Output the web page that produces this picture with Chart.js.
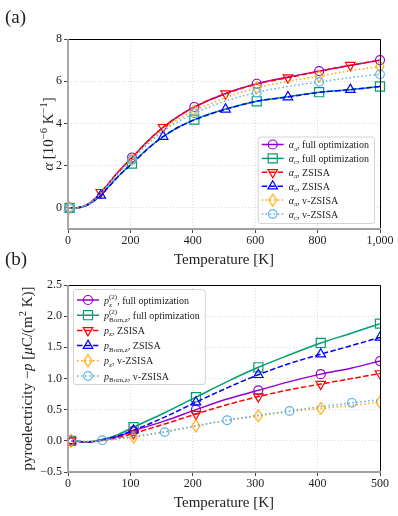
<!DOCTYPE html>
<html>
<head>
<meta charset="utf-8">
<script src="https://cdn.jsdelivr.net/npm/chart.js@4.4.1/dist/chart.umd.min.js"></script>
<style>
body { margin: 0; background: #fff; width: 398px; height: 516px; position: relative; overflow: hidden; font-family: "Liberation Serif", serif; }
#c1 { position: absolute; left: 0; top: 0; }
#c2 { position: absolute; left: 0; top: 270px; }
.pl { position: absolute; left: 5px; font-size: 19px; color: #222; line-height: 22px; }
</style>
</head>
<body>
<canvas id="c1" width="398" height="270"></canvas>
<canvas id="c2" width="398" height="246"></canvas>
<div class="pl" style="top:6px">(a)</div>
<div class="pl" style="top:248px">(b)</div>
<script>
// (a) coeficientes de expansión térmica, 10^-6 K^-1
const tempA = [5, 30, 55, 80, 105, 130, 155, 180, 205, 255, 305, 355, 405, 505, 605, 705, 805, 905, 1000];
const alphaA_full  = [0, 0.01, 0.10, 0.35, 0.72, 1.15, 1.60, 2.00, 2.38, 3.15, 3.82, 4.35, 4.78, 5.42, 5.88, 6.20, 6.48, 6.75, 7.00];
const alphaC_full  = [0, 0.01, 0.09, 0.30, 0.60, 1.00, 1.40, 1.77, 2.10, 2.80, 3.38, 3.83, 4.18, 4.68, 5.05, 5.27, 5.48, 5.60, 5.75];
const alphaA_zsisa = [0, 0.01, 0.10, 0.36, 0.74, 1.17, 1.61, 2.01, 2.38, 3.15, 3.82, 4.35, 4.78, 5.41, 5.87, 6.17, 6.47, 6.76, 6.99];
const alphaC_zsisa = [0, 0.01, 0.09, 0.30, 0.59, 0.99, 1.39, 1.76, 2.09, 2.79, 3.38, 3.83, 4.17, 4.67, 5.05, 5.25, 5.47, 5.60, 5.75];
const alphaA_vz    = [0, 0.01, 0.10, 0.34, 0.70, 1.12, 1.55, 1.95, 2.32, 3.08, 3.72, 4.22, 4.60, 5.22, 5.68, 6.00, 6.24, 6.50, 6.70];
const alphaC_vz    = [0, 0.01, 0.10, 0.33, 0.68, 1.10, 1.52, 1.92, 2.28, 3.02, 3.63, 4.10, 4.48, 5.06, 5.47, 5.75, 5.97, 6.17, 6.33];
const marksA1 = [5, 205, 405, 605, 805, 1000];
const marksA2 = [105, 305, 505, 705, 905];
const xTicksA = [0, 200, 400, 600, 800, 1000];
const yTicksA = [0, 2, 4, 6, 8];

// (b) piroelectricidad, µC/(m^2 K)
const tempB = [5, 30, 55, 80, 105, 155, 205, 255, 305, 355, 405, 455, 500];
const pz_full     = [0, -0.02, 0.01, 0.07, 0.16, 0.32, 0.50, 0.67, 0.81, 0.95, 1.07, 1.17, 1.28];
const pBorn_full  = [0, -0.02, 0.02, 0.10, 0.22, 0.45, 0.70, 0.95, 1.18, 1.38, 1.57, 1.73, 1.88];
const pz_zsisa    = [0, -0.02, 0.01, 0.05, 0.12, 0.27, 0.43, 0.58, 0.71, 0.82, 0.91, 1.00, 1.08];
const pBorn_zsisa = [0, -0.02, 0.02, 0.08, 0.17, 0.38, 0.62, 0.85, 1.06, 1.24, 1.39, 1.53, 1.66];
const pz_vz       = [0, -0.01, 0.00, 0.03, 0.06, 0.15, 0.24, 0.33, 0.40, 0.47, 0.52, 0.57, 0.62];
const pBorn_vz    = [0, -0.01, 0.01, 0.04, 0.07, 0.14, 0.24, 0.33, 0.41, 0.48, 0.55, 0.61, 0.66];
const marksB1 = [5, 105, 205, 305, 405, 500];
const marksB2 = [55, 155, 255, 355, 455];
const xTicksB = [0, 100, 200, 300, 400, 500];
const yTicksB = [-0.5, 0, 0.5, 1, 1.5, 2, 2.5];

// etiquetas con sub/superíndices
const labelsA = [
  [['α', 'i'], ['a', 'sub'], [', full optimization', 'n']],
  [['α', 'i'], ['c', 'sub'], [', full optimization', 'n']],
  [['α', 'i'], ['a', 'sub'], [', ZSISA', 'n']],
  [['α', 'i'], ['c', 'sub'], [', ZSISA', 'n']],
  [['α', 'i'], ['a', 'sub'], [', v-ZSISA', 'n']],
  [['α', 'i'], ['c', 'sub'], [', v-ZSISA', 'n']]
];
const labelsB = [
  [['p', 'i'], [['z', '(2)'], 'ss'], [', full optimization', 'n']],
  [['p', 'i'], [['Born,z', '(2)'], 'ss'], [', full optimization', 'n']],
  [['p', 'i'], ['z', 'sub'], [', ZSISA', 'n']],
  [['p', 'i'], ['Born,z', 'sub'], [', ZSISA', 'n']],
  [['p', 'i'], ['z', 'sub'], [', v-ZSISA', 'n']],
  [['p', 'i'], ['Born,z', 'sub'], [', v-ZSISA', 'n']]
];
const yTitleA = [['α', 'i'], [' [10', 'n'], ['−6', 'sup'], [' K', 'n'], ['−1', 'sup'], [']', 'n']];
const yTitleB = [['pyroelectricity ', 'n'], ['−', 'n'], ['p', 'i'], [' [', 'n'], ['μ', 'i'], ['C/(m', 'n'], ['2', 'sup'], [' K)]', 'n']];

const FONT = '"Liberation Serif", serif';
const C_PURPLE = '#9400d3', C_GREEN = '#009e73', C_RED = '#ff0000', C_BLUE = '#0000ff', C_ORANGE = '#ffa500', C_SKY = '#56b4e9';

function thinDiamond(color) {
  const c = document.createElement('canvas');
  c.width = 12; c.height = 15;
  const g = c.getContext('2d');
  g.strokeStyle = color; g.lineWidth = 1.2;
  g.beginPath();
  g.moveTo(6, 1.5); g.lineTo(10, 7.5); g.lineTo(6, 13.5); g.lineTo(2, 7.5);
  g.closePath(); g.stroke();
  return c;
}

function drawRich(ctx, parts, x, y, size, draw) {
  let cx = x;
  const setF = (s, it) => { ctx.font = (it ? 'italic ' : '') + s + 'px ' + FONT; };
  for (const [t, s] of parts) {
    if (s === 'ss') {
      setF(size * 0.7, false);
      const w1 = ctx.measureText(t[0]).width, w2 = ctx.measureText(t[1]).width;
      if (draw) { ctx.fillText(t[0], cx, y + size * 0.3); ctx.fillText(t[1], cx, y - size * 0.45); }
      cx += Math.max(w1, w2);
      continue;
    }
    const small = s === 'sub' || s === 'sup';
    setF(small ? size * 0.7 : size, s === 'i');
    const dy = s === 'sub' ? size * 0.25 : s === 'sup' ? -size * 0.4 : 0;
    if (draw) ctx.fillText(t, cx, y + dy);
    cx += ctx.measureText(t).width;
  }
  return cx - x;
}

function series(T, vals, label, color, dash, mk, marks, i) {
  return {
    label: label,
    data: T.map((t, k) => ({ x: t, y: vals[k] })),
    borderColor: color,
    borderWidth: 1.5,
    borderDash: dash,
    cubicInterpolationMode: 'monotone',
    fill: false,
    pointStyle: mk.style,
    pointRotation: mk.rot || 0,
    pointRadius: ctx => marks.includes(T[ctx.dataIndex]) ? mk.r : 0,
    pointHoverRadius: 0,
    pointBorderColor: color,
    pointBackgroundColor: 'rgba(0,0,0,0)',
    pointBorderWidth: 1.2,
    order: 10 - i,
    mk: mk
  };
}

// ejes, títulos y leyenda
const decor = {
  id: 'decor',
  afterDraw(chart, args, o) {
    const { ctx, chartArea: a } = chart;
    ctx.save();
    // marco
    ctx.lineWidth = 1;
    ctx.strokeStyle = '#000';
    ctx.beginPath();
    ctx.moveTo(a.left, a.top + 0.5); ctx.lineTo(a.right + 0.5, a.top + 0.5); ctx.lineTo(a.right + 0.5, a.bottom);
    ctx.stroke();
    ctx.lineWidth = 1.8;
    ctx.strokeStyle = '#a0a0a0';
    ctx.beginPath();
    ctx.moveTo(a.left, a.top); ctx.lineTo(a.left, a.bottom); ctx.lineTo(a.right + 1, a.bottom);
    ctx.stroke();

    // título eje y
    ctx.fillStyle = '#222';
    ctx.textBaseline = 'alphabetic';
    ctx.save();
    ctx.translate(a.left - o.yTitleOff, (a.top + a.bottom) / 2);
    ctx.rotate(-Math.PI / 2);
    const tw = drawRich(ctx, o.yTitle, 0, 0, 15, false);
    drawRich(ctx, o.yTitle, -tw / 2, 5, 15, true);
    ctx.restore();

    // leyenda
    const L = o.legend, fs = 10;
    let textW = 0;
    o.labels.forEach(p => { textW = Math.max(textW, drawRich(ctx, p, 0, 0, fs, false)); });
    const n = o.labels.length;
    const boxW = 4 + 22 + 5 + textW + 5;
    const boxH = L.padTop + (n - 1) * L.rowH + L.padBot;
    const bx = L.corner === 'br' ? a.right - 6 - boxW : a.left + 5;
    const by = L.corner === 'br' ? a.bottom - 6 - boxH : a.top + 4;
    ctx.fillStyle = 'rgba(255,255,255,0.85)';
    ctx.strokeStyle = '#d4d4d4';
    ctx.lineWidth = 1;
    ctx.beginPath();
    ctx.roundRect(bx + 0.5, by + 0.5, boxW, boxH, 2.5);
    ctx.fill(); ctx.stroke();
    chart.data.datasets.forEach((ds, i) => {
      const yy = by + L.padTop + i * L.rowH;
      const x0 = bx + 4;
      ctx.strokeStyle = ds.borderColor;
      ctx.lineWidth = 1.5;
      ctx.setLineDash(ds.borderDash || []);
      ctx.beginPath(); ctx.moveTo(x0, yy); ctx.lineTo(x0 + 22, yy); ctx.stroke();
      ctx.setLineDash([]);
      ctx.fillStyle = 'rgba(0,0,0,0)';
      ctx.lineWidth = 1.2;
      Chart.helpers.drawPoint(ctx, { pointStyle: ds.mk.style, rotation: ds.mk.rot || 0, radius: ds.mk.r, borderWidth: 1.2 }, x0 + 11, yy);
      ctx.fillStyle = '#222';
      drawRich(ctx, o.labels[i], x0 + 27, yy + 3.5, fs, true);
    });
    ctx.restore();
  }
};

function axisX(ticks, h, titlePad) {
  return {
    type: 'linear', min: ticks[0], max: ticks[ticks.length - 1],
    afterBuildTicks: s => { s.ticks = ticks.map(v => ({ value: v })); },
    afterFit: s => { s.height = h; },
    grid: { color: '#cfcfcf', lineWidth: 0.8, tickLength: 4, tickColor: '#444', tickWidth: 1, tickBorderDash: [] },
    border: { display: false, dash: [1, 2] },
    ticks: { font: { family: FONT, size: 12 }, color: '#222', padding: 1, maxRotation: 0 },
    title: { display: true, text: 'Temperature [K]', font: { family: FONT, size: 15 }, color: '#222', padding: { top: 0, bottom: titlePad } }
  };
}
function axisY(ticks, min, max, fmt) {
  return {
    type: 'linear', min: min, max: max,
    afterBuildTicks: s => { s.ticks = ticks.map(v => ({ value: v })); },
    afterFit: s => { s.width = 68; },
    grid: { color: '#cfcfcf', lineWidth: 0.8, tickLength: 4, tickColor: '#444', tickWidth: 1, tickBorderDash: [] },
    border: { display: false, dash: [1, 2] },
    ticks: { font: { family: FONT, size: 12 }, color: '#222', padding: 2, callback: fmt }
  };
}

const circ = { style: 'circle', r: 4.5 };
const sq = { style: 'rect', r: 6.4 };
const tDown = { style: 'triangle', rot: 180, r: 5.5 };
const tUp = { style: 'triangle', r: 5.5 };
const dia = { style: thinDiamond(C_ORANGE), r: 5 };
const circ2 = { style: 'circle', r: 4.3 };

new Chart(document.getElementById('c1'), {
  type: 'line',
  data: {
    datasets: [
      series(tempA, alphaA_full, 'αa, full optimization', C_PURPLE, [], circ, marksA1, 0),
      series(tempA, alphaC_full, 'αc, full optimization', C_GREEN, [], sq, marksA1, 1),
      series(tempA, alphaA_zsisa, 'αa, ZSISA', C_RED, [5.5, 2.4], tDown, marksA2, 2),
      series(tempA, alphaC_zsisa, 'αc, ZSISA', C_BLUE, [5.5, 2.4], tUp, marksA2, 3),
      series(tempA, alphaA_vz, 'αa, v-ZSISA', C_ORANGE, [1.5, 2.5], dia, marksA1, 4),
      series(tempA, alphaC_vz, 'αc, v-ZSISA', C_SKY, [1.5, 2.5], circ2, marksA1, 5)
    ].map(d => Object.assign(d, { clip: false }))
  },
  options: {
    responsive: false, animation: false,
    layout: { padding: { top: 39, right: 18, left: 0, bottom: 0 } },
    events: [],
    plugins: {
      legend: { display: false }, tooltip: { enabled: false },
      decor: { labels: labelsA, yTitle: yTitleA, yTitleOff: 20, legend: { corner: 'br', padTop: 8, rowH: 13.9, padBot: 9 } }
    },
    scales: {
      x: axisX(xTicksA, 41, 1),
      y: axisY(yTicksA, -1, 8, v => String(v))
    }
  },
  plugins: [decor]
});

const fmtB = v => (v < 0 ? '−' : '') + Math.abs(v).toFixed(1);
new Chart(document.getElementById('c2'), {
  type: 'line',
  data: {
    datasets: [
      series(tempB, pz_full, 'pz(2), full optimization', C_PURPLE, [], circ, marksB1, 0),
      series(tempB, pBorn_full, 'pBorn,z(2), full optimization', C_GREEN, [], sq, marksB1, 1),
      series(tempB, pz_zsisa, 'pz, ZSISA', C_RED, [5.5, 2.4], tDown, marksB1, 2),
      series(tempB, pBorn_zsisa, 'pBorn,z, ZSISA', C_BLUE, [5.5, 2.4], tUp, marksB1, 3),
      series(tempB, pz_vz, 'pz, v-ZSISA', C_ORANGE, [1.5, 2.5], dia, marksB1, 4),
      series(tempB, pBorn_vz, 'pBorn,z, v-ZSISA', C_SKY, [1.5, 2.5], circ2, marksB2, 5)
    ]
  },
  options: {
    responsive: false, animation: false,
    layout: { padding: { top: 15, right: 18, left: 0, bottom: 0 } },
    events: [],
    plugins: {
      legend: { display: false }, tooltip: { enabled: false },
      decor: { labels: labelsB, yTitle: yTitleB, yTitleOff: 41, legend: { corner: 'tl', padTop: 11, rowH: 15.2, padBot: 8 } }
    },
    scales: {
      x: axisX(xTicksB, 44, 4),
      y: axisY(yTicksB, -0.5, 2.5, fmtB)
    }
  },
  plugins: [decor]
});
</script>
</body>
</html>
